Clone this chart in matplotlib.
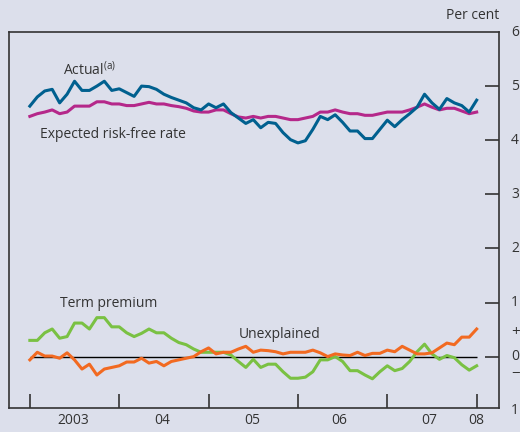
import matplotlib
matplotlib.use("Agg")
import matplotlib.pyplot as plt
import matplotlib.transforms as mtransforms
import numpy as np

# monthly data, Jan 2003 .. Jan 2008 (per cent)
actual = [4.63, 4.80, 4.91, 4.94, 4.69, 4.85, 5.09, 4.92, 4.92, 5.00,
          5.09, 4.92, 4.95, 4.88, 4.81, 5.00, 4.99, 4.94, 4.85, 4.79,
          4.74, 4.69, 4.60, 4.56, 4.67, 4.60, 4.67, 4.51, 4.41, 4.31,
          4.38, 4.23, 4.33, 4.31, 4.14, 4.01, 3.95, 3.99, 4.20, 4.44,
          4.38, 4.47, 4.33, 4.17, 4.17, 4.03, 4.03, 4.20, 4.37, 4.25,
          4.38, 4.49, 4.61, 4.85, 4.69, 4.57, 4.77, 4.69, 4.64, 4.52, 4.74]
expected = [4.44, 4.49, 4.52, 4.56, 4.49, 4.52, 4.63, 4.63, 4.63, 4.71,
            4.71, 4.67, 4.67, 4.64, 4.64, 4.67, 4.70, 4.67, 4.67, 4.64,
            4.62, 4.59, 4.54, 4.52, 4.52, 4.56, 4.56, 4.49, 4.43, 4.41,
            4.44, 4.41, 4.44, 4.44, 4.41, 4.38, 4.38, 4.41, 4.44, 4.52,
            4.52, 4.56, 4.52, 4.49, 4.49, 4.46, 4.46, 4.49, 4.52, 4.52,
            4.52, 4.56, 4.61, 4.67, 4.61, 4.56, 4.59, 4.59, 4.54, 4.49, 4.52]
term_premium = [0.30, 0.30, 0.44, 0.51, 0.34, 0.37, 0.62, 0.62, 0.51, 0.72,
                0.72, 0.55, 0.55, 0.44, 0.37, 0.43, 0.51, 0.44, 0.44, 0.34,
                0.26, 0.22, 0.14, 0.08, 0.08, 0.08, 0.08, 0.03, -0.09, -0.20,
                -0.05, -0.20, -0.14, -0.14, -0.28, -0.40, -0.40, -0.38, -0.28, -0.06,
                -0.06, 0.00, -0.09, -0.26, -0.26, -0.34, -0.41, -0.28, -0.17, -0.26,
                -0.22, -0.09, 0.09, 0.23, 0.05, -0.05, 0.02, -0.02, -0.15, -0.25, -0.17]
unexplained = [-0.06, 0.08, 0.01, 0.01, -0.03, 0.07, -0.06, -0.23, -0.14, -0.34,
               -0.23, -0.20, -0.17, -0.10, -0.10, -0.03, -0.12, -0.09, -0.17, -0.09,
               -0.06, -0.03, 0.00, 0.09, 0.16, 0.05, 0.08, 0.08, 0.14, 0.19,
               0.08, 0.12, 0.11, 0.09, 0.05, 0.08, 0.08, 0.08, 0.12, 0.07,
               0.00, 0.05, 0.03, 0.02, 0.08, 0.02, 0.06, 0.06, 0.12, 0.09,
               0.19, 0.12, 0.05, 0.05, 0.07, 0.16, 0.25, 0.22, 0.36, 0.36, 0.51]
year_labels = ["2003", "04", "05", "06", "07", "08"]
y_labels = ["6", "5", "4", "3", "2", "1", "0", "1"]
y_values = [6, 5, 4, 3, 2, 1, 0, -1]

bg = "#dcdfeb"
ink = "#333333"
plt.rcParams['font.family'] = ['Open Sans', 'DejaVu Sans']
plt.rcParams['mathtext.default'] = 'regular'

fig = plt.figure(figsize=(5.2, 4.32), dpi=100, facecolor=bg)
ax = fig.add_axes([9/520, 24/432, 490/520, 376/432], facecolor=bg)

months = np.arange(len(actual))
ax.hlines(0, 0, months[-1], color="black", lw=1.0, zorder=1)
ax.plot(months, term_premium, color="#7ac143", lw=2.2, zorder=2)
ax.plot(months, unexplained, color="#f26a21", lw=2.2, zorder=3)
ax.plot(months, expected, color="#b5288a", lw=2.2, zorder=3)
ax.plot(months, actual, color="#00608f", lw=2.2, zorder=4)

ax.set_xlim(-2.8, 63.0)
ax.set_ylim(-0.95, 6.0)

for s in ax.spines.values():
    s.set_color(ink)
    s.set_linewidth(1.2)

# ticks drawn inward
ax.set_xticks([0, 12, 24, 36, 48, 60])
ax.set_xticklabels([])
ax.set_yticks([0, 1, 2, 3, 4, 5])
ax.set_yticklabels([])
ax.tick_params(axis="x", direction="in", length=10, width=1.2, color=ink, top=False)
ax.tick_params(axis="y", direction="in", length=10, width=1.2, color=ink,
               left=False, right=True)

# year labels
tx = mtransforms.blended_transform_factory(ax.transData, ax.transAxes)
for pos, lab in zip([5.8, 17.8, 29.9, 41.6, 53.7, 60], year_labels):
    ax.text(pos, -0.034, lab, transform=tx, ha="center", va="center",
            fontsize=10, color=ink)

# right-hand labels
ty = mtransforms.blended_transform_factory(ax.transAxes, ax.transData)
for v, lab in zip(y_values, y_labels):
    ax.text(1.033, v, lab, transform=ty, ha="center", va="center",
            fontsize=10, color=ink)
ax.text(1.033, 0.44, "+", transform=ty, ha="center", va="center", fontsize=11, color=ink)
ax.text(1.033, -0.33, "\u2212", transform=ty, ha="center", va="center", fontsize=11, color=ink)
ax.text(1.0, 1.025, "Per cent", transform=ax.transAxes, ha="right", va="bottom",
        fontsize=10, color=ink)

# series labels
ax.text(4.4, 5.3, "Actual$^{(a)}$", fontsize=10, color=ink, va="center")
ax.text(1.3, 4.1, "Expected risk-free rate", fontsize=10, color=ink, va="center")
ax.text(4.1, 0.98, "Term premium", fontsize=10, color=ink, va="center")
ax.text(28.0, 0.40, "Unexplained", fontsize=10, color=ink, va="center")

fig.savefig("out.png", dpi=100, facecolor=bg)
